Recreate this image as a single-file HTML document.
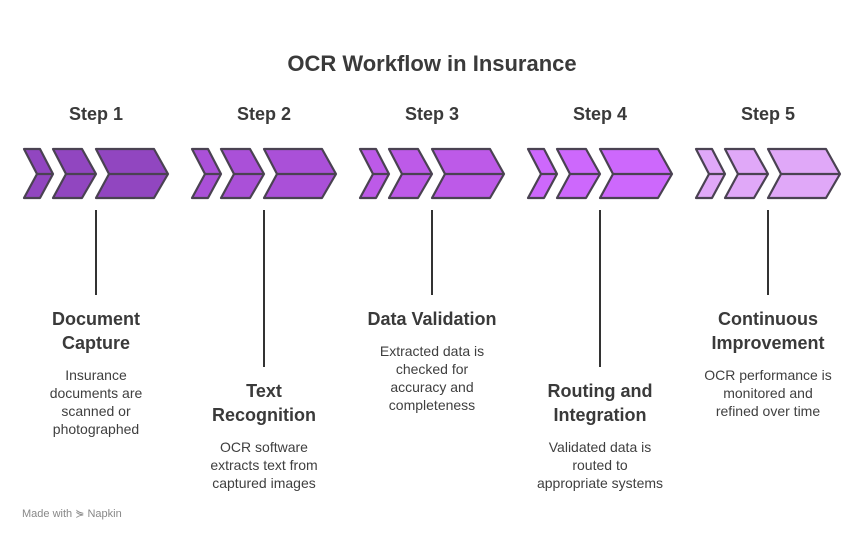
<!DOCTYPE html>
<html><head><style>
body{margin:0;width:864px;height:540px;background:#fff;font-family:"Liberation Sans",sans-serif;overflow:hidden;position:relative}
.t{position:absolute;text-align:center;color:#3a3a3a}
.h{font-weight:bold;font-size:18px;line-height:24px}
.b{font-size:14px;line-height:18px;color:#3f3f3f}
</style></head><body>
<div class="t" style="left:0;width:864px;top:51px;font-size:22px;font-weight:bold">OCR Workflow in Insurance</div>
<svg width="864" height="540" style="position:absolute;left:0;top:0">
<g stroke="#4a4252" stroke-width="2.2" stroke-linejoin="round">
<g fill="#9146c0">
<path d="M24 149H40L53 174L40 198H24L37 174Z"/><path d="M53 149H82L96 174L82 198H53L66 174Z"/><path d="M96 149H154L168 174L154 198H96L109 174Z"/><path d="M37 174H53M66 174H96M109 174H168" fill="none"/>
</g>
<g transform="translate(168,0)" fill="#aa50d8"><path d="M24 149H40L53 174L40 198H24L37 174Z"/><path d="M53 149H82L96 174L82 198H53L66 174Z"/><path d="M96 149H154L168 174L154 198H96L109 174Z"/><path d="M37 174H53M66 174H96M109 174H168" fill="none"/></g>
<g transform="translate(336,0)" fill="#bd5ae8"><path d="M24 149H40L53 174L40 198H24L37 174Z"/><path d="M53 149H82L96 174L82 198H53L66 174Z"/><path d="M96 149H154L168 174L154 198H96L109 174Z"/><path d="M37 174H53M66 174H96M109 174H168" fill="none"/></g>
<g transform="translate(504,0)" fill="#cd68fc"><path d="M24 149H40L53 174L40 198H24L37 174Z"/><path d="M53 149H82L96 174L82 198H53L66 174Z"/><path d="M96 149H154L168 174L154 198H96L109 174Z"/><path d="M37 174H53M66 174H96M109 174H168" fill="none"/></g>
<g transform="translate(672,0)" fill="#e0a8f8"><path d="M24 149H40L53 174L40 198H24L37 174Z"/><path d="M53 149H82L96 174L82 198H53L66 174Z"/><path d="M96 149H154L168 174L154 198H96L109 174Z"/><path d="M37 174H53M66 174H96M109 174H168" fill="none"/></g>
</g>
<g stroke="#333" stroke-width="2">
<path d="M96 210V295M264 210V367M432 210V295M600 210V367M768 210V295"/>
</g>
</svg>
<div class="t h" style="left:16px;width:160px;top:102px">Step 1</div>
<div class="t h" style="left:184px;width:160px;top:102px">Step 2</div>
<div class="t h" style="left:352px;width:160px;top:102px">Step 3</div>
<div class="t h" style="left:520px;width:160px;top:102px">Step 4</div>
<div class="t h" style="left:688px;width:160px;top:102px">Step 5</div>

<div class="t" style="left:16px;width:160px;top:307px"><div class="h">Document<br>Capture</div><div class="b" style="margin-top:11px">Insurance<br>documents are<br>scanned or<br>photographed</div></div>
<div class="t" style="left:184px;width:160px;top:379px"><div class="h">Text<br>Recognition</div><div class="b" style="margin-top:11px">OCR software<br>extracts text from<br>captured images</div></div>
<div class="t" style="left:342px;width:180px;top:307px"><div class="h">Data Validation</div><div class="b" style="margin-top:11px">Extracted data is<br>checked for<br>accuracy and<br>completeness</div></div>
<div class="t" style="left:510px;width:180px;top:379px"><div class="h">Routing and<br>Integration</div><div class="b" style="margin-top:11px">Validated data is<br>routed to<br>appropriate systems</div></div>
<div class="t" style="left:678px;width:180px;top:307px"><div class="h">Continuous<br>Improvement</div><div class="b" style="margin-top:11px">OCR performance is<br>monitored and<br>refined over time</div></div>
<div style="position:absolute;left:22px;top:507px;font-size:11px;color:#888">Made with ⋟ Napkin</div>
</body></html>
